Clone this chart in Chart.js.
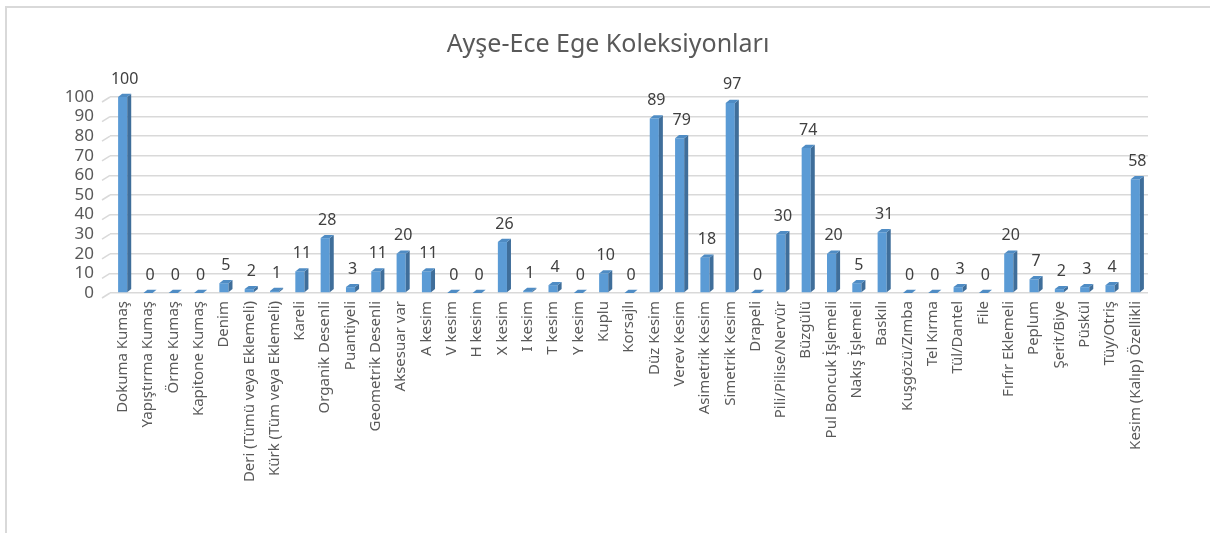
<!DOCTYPE html>
<html>
<head>
<meta charset="utf-8">
<script src="https://cdn.jsdelivr.net/npm/chart.js@4"></script>
<style>
  body { margin: 0; background: #fff; }
  #wrap { position: relative; width: 1210px; height: 533px; overflow: hidden; }
  #frame { position: absolute; left: 5px; top: 6px; width: 1230px; height: 560px; border: 2px solid #d9d9d9; box-sizing: border-box; }
  #koleksiyon { position: absolute; left: 0; top: 0; }
</style>
</head>
<body>
<div id="wrap">
  <div id="frame"></div>
  <canvas id="koleksiyon" width="1210" height="533"></canvas>
</div>
<script>
// kategoriler ve değerler
const kategoriler = [
  "Dokuma Kumaş", "Yapıştırma Kumaş", "Örme Kumaş", "Kapitone Kumaş", "Denim",
  "Deri (Tümü veya Eklemeli)", "Kürk (Tüm veya Eklemeli)", "Kareli", "Organik Desenli", "Puantiyeli",
  "Geometrik Desenli", "Aksesuar var", "A kesim", "V kesim", "H kesim",
  "X kesim", "I kesim", "T kesim", "Y kesim", "Kuplu",
  "Korsajlı", "Düz Kesim", "Verev Kesim", "Asimetrik Kesim", "Simetrik Kesim",
  "Drapeli", "Pili/Pilise/Nervür", "Büzgülü", "Pul Boncuk İşlemeli", "Nakış İşlemeli",
  "Baskılı", "Kuşgözü/Zımba", "Tel Kırma", "Tül/Dantel", "File",
  "Fırfır Eklemeli", "Peplum", "Şerit/Biye", "Püskül", "Tüy/Otriş",
  "Kesim (Kalıp) Özellikli"
];
const degerler = [
  100, 0, 0, 0, 5,
  2, 1, 11, 28, 3,
  11, 20, 11, 0, 0,
  26, 1, 4, 0, 10,
  0, 89, 79, 18, 97,
  0, 30, 74, 20, 5,
  31, 0, 0, 3, 0,
  20, 7, 2, 3, 4,
  58
];
const yTikleri = [0, 10, 20, 30, 40, 50, 60, 70, 80, 90, 100];
const baslik = "Ayşe-Ece Ege Koleksiyonları";

const yaziRengi = "#595959";
const font = "'Noto Sans', 'DejaVu Sans', sans-serif";

// 3B görünüm, başlık ve veri etiketleri için küçük eklenti
const ucBoyut = {
  id: "ucBoyut",
  beforeDatasetsDraw(chart) {
    // sol duvardaki eğik ızgara çizgileri
    const ctx = chart.ctx;
    const y = chart.scales.y;
    const left = chart.chartArea.left;
    ctx.save();
    ctx.strokeStyle = "#d9d9d9";
    ctx.lineWidth = 1.5;
    yTikleri.forEach((t) => {
      const py = y.getPixelForValue(t);
      ctx.beginPath();
      ctx.moveTo(left - 8, py + 5);
      ctx.lineTo(left, py);
      ctx.stroke();
    });
    ctx.restore();
  },
  afterDatasetsDraw(chart) {
    const ctx = chart.ctx;
    const meta = chart.getDatasetMeta(0);
    const d = 4;
    ctx.save();
    meta.data.forEach((bar, i) => {
      const w = bar.width;
      const l = bar.x - w / 2;
      const r = bar.x + w / 2;
      const top = bar.y;
      const base = bar.base;
      // yan yüz
      ctx.fillStyle = "#3f6e9a";
      ctx.beginPath();
      ctx.moveTo(r, top);
      ctx.lineTo(r + d, top - d * 0.8);
      ctx.lineTo(r + d, base - d * 0.8);
      ctx.lineTo(r, base);
      ctx.closePath();
      ctx.fill();
      // üst yüz
      ctx.fillStyle = "#4f8cc4";
      ctx.beginPath();
      ctx.moveTo(l, top);
      ctx.lineTo(l + d, top - d * 0.8);
      ctx.lineTo(r + d, top - d * 0.8);
      ctx.lineTo(r, top);
      ctx.closePath();
      ctx.fill();
      // değer etiketi
      ctx.fillStyle = "#404040";
      ctx.font = "16px " + font;
      ctx.textAlign = "center";
      ctx.textBaseline = "bottom";
      ctx.fillText(String(degerler[i]), bar.x + 2, top - 10);
    });
    // başlık, çerçevenin ortasında
    ctx.fillStyle = yaziRengi;
    ctx.font = "25px " + font;
    ctx.textAlign = "center";
    ctx.textBaseline = "middle";
    ctx.fillText(baslik, 608, 45);
    ctx.restore();
  }
};

new Chart(document.getElementById("koleksiyon").getContext("2d"), {
  type: "bar",
  data: {
    labels: kategoriler,
    datasets: [
      {
        label: "Koleksiyon",
        data: degerler,
        backgroundColor: "#5b9bd5",
        barPercentage: 0.36,
        categoryPercentage: 1
      }
    ]
  },
  plugins: [ucBoyut],
  options: {
    responsive: false,
    animation: false,
    layout: {
      padding: { left: 0, right: 62, top: 97, bottom: 0 }
    },
    plugins: {
      legend: { display: false },
      tooltip: { enabled: false },
      title: { display: false }
    },
    scales: {
      x: {
        grid: { display: false, drawTicks: false },
        border: { display: false },
        ticks: {
          color: yaziRengi,
          font: { family: font, size: 15 },
          minRotation: 90,
          maxRotation: 90,
          autoSkip: false,
          padding: 8
        },
        afterFit(scale) { scale.height = 240; }
      },
      y: {
        min: 0,
        max: 100,
        afterBuildTicks(scale) {
          scale.ticks = yTikleri.map((v) => ({ value: v }));
        },
        grid: { color: "#d9d9d9", lineWidth: 1.5, drawTicks: false },
        border: { display: false },
        ticks: {
          color: yaziRengi,
          font: { family: font, size: 17 },
          autoSkip: false,
          stepSize: 10,
          padding: 16
        },
        afterFit(scale) { scale.width = 110; }
      }
    }
  }
});
</script>
</body>
</html>
